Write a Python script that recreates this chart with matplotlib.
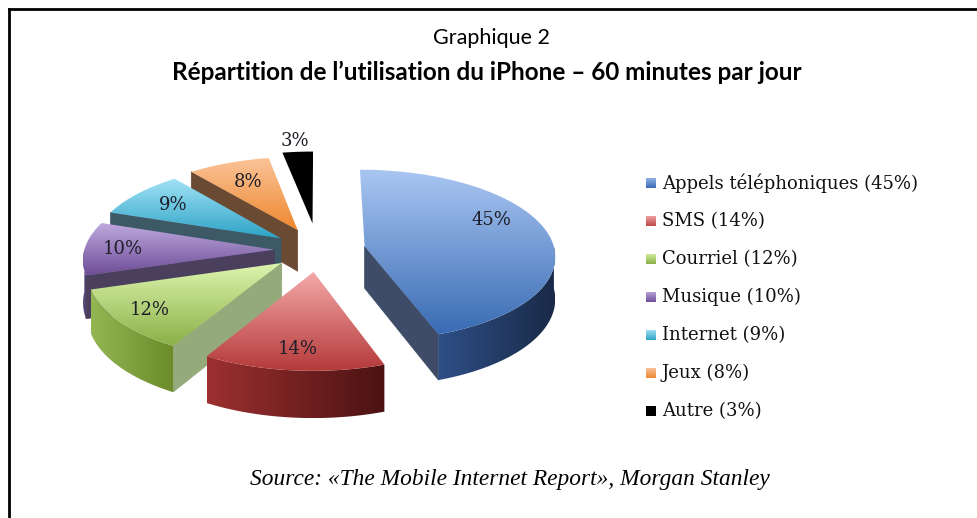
import numpy as np
import matplotlib
matplotlib.use("Agg")
import matplotlib.pyplot as plt
from matplotlib.patches import Polygon
from matplotlib.colors import to_rgb

# ==============================================================================
# DATA
# ==============================================================================
categories = ["Appels téléphoniques", "SMS", "Courriel", "Musique",
              "Internet", "Jeux", "Autre"]
shares = [45, 14, 12, 10, 9, 8, 3]

title_top = "Graphique 2"
title_main = "Répartition de l’utilisation du iPhone – 60 minutes par jour"
source = "Source: «The Mobile Internet Report», Morgan Stanley"

# ==============================================================================
# STYLE
# ==============================================================================
# (light top, dark top, radial wall, outer wall light, outer wall dark)
palette = [
    ("#A9C6F2", "#3A6CB4", "#3E4C68", "#2E4F86", "#1A2A48"),
    ("#F4A8A8", "#B53A3A", "#7A2020", "#9C3030", "#4C1212"),
    ("#DDF4AE", "#8AB046", "#95AA7B", "#93B552", "#6C8C2C"),
    ("#C0AADF", "#6E4E98", "#4A3F5C", "#6A5590", "#3F3258"),
    ("#A2E2F6", "#2EA4C6", "#3D5966", "#3A8AA6", "#2A6A80"),
    ("#FAC498", "#EE8830", "#6B4A34", "#B86A28", "#8A4E1E"),
    ("#000000", "#000000", "#000000", "#000000", "#000000"),
]
legend_cols = [("#8FB0E6", "#3A6CB4"), ("#F0A0A0", "#C04848"),
               ("#D0EC9C", "#8AB046"), ("#B8A0D8", "#6E4E98"),
               ("#9EDDF2", "#2EA4C6"), ("#FAC09A", "#EE8830"),
               ("#000000", "#000000")]
explode = [0.25, 0.25, 0.24, 0.23, 0.24, 0.26, 0.32]
label_r = [0.69, 0.8, 0.82, 0.8, 0.74, 0.7, 1.18]

CX, CY = 318, 250      # pie centre in pixels
RX, RY = 190, 86       # ellipse radii
DEPTH = 42             # thickness
PERSP = 0.1            # mild perspective

W, H = 977, 518
fig = plt.figure(figsize=(W / 100, H / 100), dpi=100)
ax = fig.add_axes([0, 0, 1, 1])


def proj(xp, yp, down=0.0):
    v = -np.asarray(yp)
    f = 1 + PERSP * v
    return CX + RX * np.asarray(xp) * f, CY + RY * v * f + down * f


def grad_fill(verts, c1, c2, z, horizontal=False):
    verts = np.asarray(verts)
    poly = Polygon(verts, closed=True, facecolor="none", edgecolor="none")
    ax.add_patch(poly)
    n = 64
    a, b = np.array(to_rgb(c1)), np.array(to_rgb(c2))
    t = np.linspace(0, 1, n)[:, None]
    cols = a * (1 - t) + b * t
    img = cols[None, :, :] if horizontal else cols[:, None, :]
    x0, x1 = verts[:, 0].min(), verts[:, 0].max()
    y0, y1 = verts[:, 1].min(), verts[:, 1].max()
    im = ax.imshow(img, extent=(x0, x1, y1, y0), origin="upper",
                   aspect="auto", zorder=z, interpolation="bilinear")
    im.set_clip_path(poly)


# slice angles: start at 90 degrees, clockwise
total = sum(shares)
spans = [360 * s / total for s in shares]
slices = []
start = 90.0
for i, sp in enumerate(spans):
    hi, lo = start, start - sp
    start = lo
    mid = np.radians((hi + lo) / 2)
    ox, oy = explode[i] * np.cos(mid), explode[i] * np.sin(mid)
    slices.append((i, np.radians(lo), np.radians(hi), mid, ox, oy))

# paint back slices first
order = sorted(slices, key=lambda s: -np.sin(s[3]))
z = 1
for i, lo, hi, mid, ox, oy in order:
    light, dark, radial, out1, out2 = palette[i]
    t = np.linspace(lo, hi, 120)
    ax_, ay_ = proj(ox + np.cos(t), oy + np.sin(t))
    px, py = proj(ox, oy)
    px_d, py_d = proj(ox, oy, DEPTH)

    # radial walls that face the viewer
    for ang, sgn in ((lo, -1), (hi, 1)):
        normal = ang + sgn * np.pi / 2
        if np.sin(normal) < -0.25:
            ex, ey = proj(ox + np.cos(ang), oy + np.sin(ang))
            ex_d, ey_d = proj(ox + np.cos(ang), oy + np.sin(ang), DEPTH)
            ax.add_patch(Polygon([(px, py), (ex, ey), (ex_d, ey_d), (px_d, py_d)],
                                 closed=True, facecolor=radial, edgecolor=radial,
                                 lw=0.5, zorder=z))
    z += 1

    # outer wall, front part only
    front = np.sin(t) < 0
    if front.sum() > 1:
        tf = t[front]
        fx, fy = proj(ox + np.cos(tf), oy + np.sin(tf))
        fx_d, fy_d = proj(ox + np.cos(tf), oy + np.sin(tf), DEPTH)
        verts = np.vstack([np.column_stack([fx, fy]),
                           np.column_stack([fx_d, fy_d])[::-1]])
        grad_fill(verts, out1, out2, z, horizontal=True)
        z += 1

    # top face
    top = np.vstack([[px, py], np.column_stack([ax_, ay_])])
    grad_fill(top, light, dark, z)
    z += 1

# percentage labels
for i, lo, hi, mid, ox, oy in slices:
    r = label_r[i]
    lx, ly = proj(ox + r * np.cos(mid), oy + r * np.sin(mid))
    if i == 0:
        ly -= 16
    ax.text(lx, ly, f"{shares[i]}%", ha="center", va="center",
            fontsize=13, family="DejaVu Serif", color="#1E1E28", zorder=50)

# legend
for k, (cat, val) in enumerate(zip(categories, shares)):
    y = 183 + k * 38.0
    grad_fill([(646, y - 5), (656, y - 5), (656, y + 5), (646, y + 5)],
              legend_cols[k][0], legend_cols[k][1], 50)
    ax.text(662, y, f"{cat} ({val}%)", ha="left", va="center", fontsize=13,
            family="DejaVu Serif", color="#111111", zorder=50)

# titles and source
ax.text(491, 38, title_top, ha="center", va="center", fontsize=15.5,
        family="Lato", color="black")
ax.text(487, 72, title_main, ha="center", va="center", fontsize=17.5,
        family="Lato", weight="bold", color="black")
ax.text(510, 480, source, ha="center", va="center", fontsize=16.8,
        family="Liberation Serif", style="italic", color="black")

# border (left and top only, the rest is cut off)
ax.plot([9, 9], [H, 9], color="black", lw=2, solid_capstyle="projecting", zorder=60)
ax.plot([9, W], [9, 9], color="black", lw=2, solid_capstyle="projecting", zorder=60)

ax.set_xlim(0, W)
ax.set_ylim(H, 0)
ax.axis("off")
fig.savefig("out.png", dpi=100, facecolor="white")
